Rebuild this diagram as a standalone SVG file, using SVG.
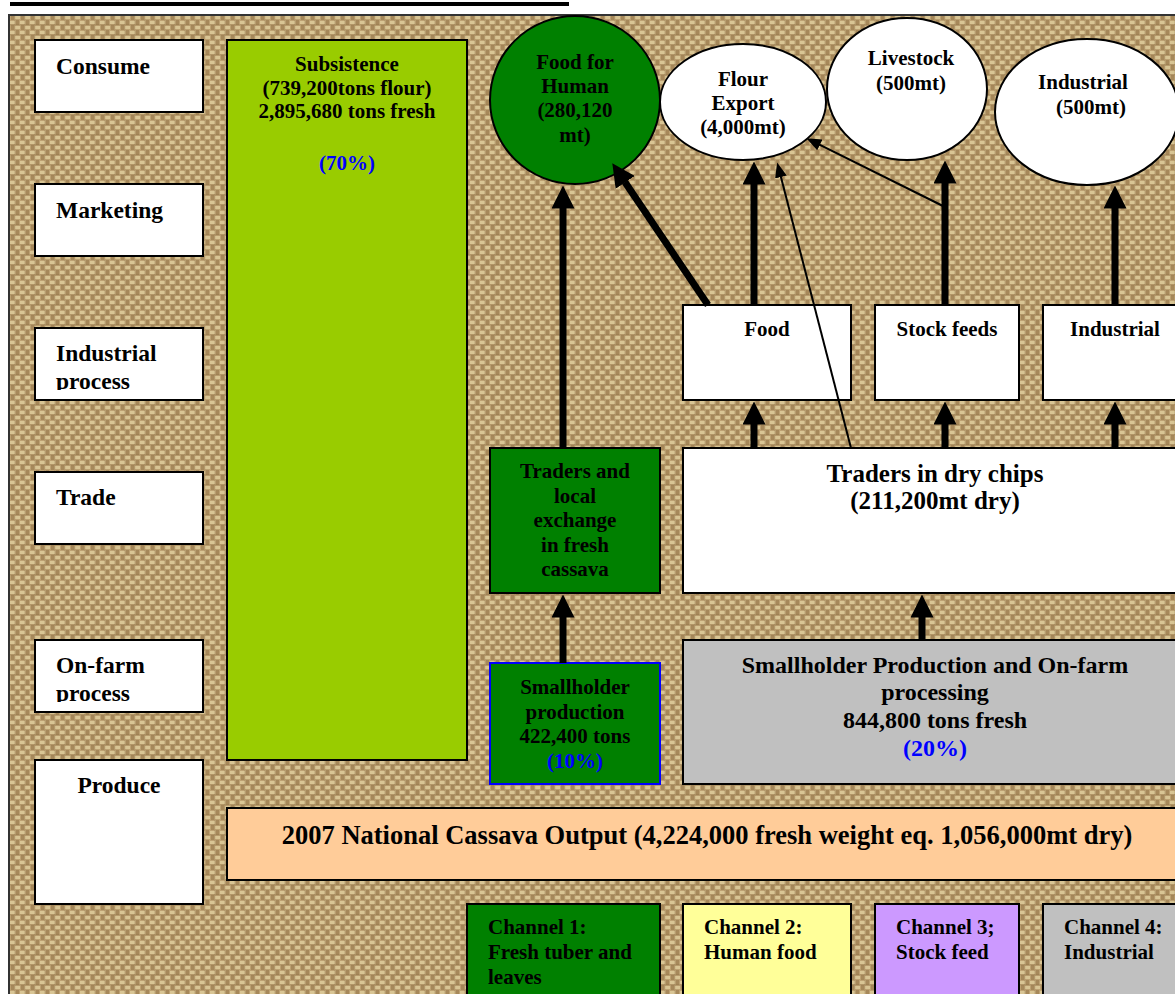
<svg xmlns="http://www.w3.org/2000/svg" width="1175" height="994" viewBox="0 0 1175 994">
<defs>
<pattern id="burlap" width="10" height="10" patternUnits="userSpaceOnUse">
<rect width="10" height="10" fill="#bda172"/>
<rect x="0" y="1" width="5" height="3" fill="#d9c594"/>
<rect x="5" y="6" width="5" height="3" fill="#d9c594"/>
<rect x="6" y="0" width="3" height="5" fill="#a6885a"/>
<rect x="1" y="5" width="3" height="5" fill="#a6885a"/>
<rect x="0" y="4.6" width="10" height="0.6" fill="#7d6238" opacity="0.5"/>
<rect x="4.6" y="0" width="0.6" height="10" fill="#7d6238" opacity="0.4"/>
</pattern>
<marker id="ah" viewBox="0 0 23 23" markerWidth="23" markerHeight="23" markerUnits="userSpaceOnUse" refX="0.5" refY="11.5" orient="auto">
<path d="M0,0 L23,11.5 L0,23 Z" fill="#000"/>
</marker>
<marker id="ahs" viewBox="0 0 15 12" markerWidth="15" markerHeight="12" markerUnits="userSpaceOnUse" refX="0.5" refY="6" orient="auto">
<path d="M0,0 L15,6 L0,12 Z" fill="#000"/>
</marker>
<clipPath id="clipInd"><rect x="35" y="328" width="168" height="62"/></clipPath>
<clipPath id="clipFarm"><rect x="35" y="640" width="168" height="62"/></clipPath>
</defs>
<style>
text{font-family:"Liberation Serif","Times New Roman",serif;font-weight:bold;fill:#000}
.lbl{font-size:23.5px}
.t21{font-size:21px}
.t24{font-size:24px}
.t25{font-size:25px}
.mid{text-anchor:middle}
.blue{fill:#0000ff}
.box{stroke:#000;stroke-width:2}
.thick{stroke:#000;stroke-width:7;fill:none}
.thin{stroke:#000;stroke-width:2;fill:none}
</style>
<rect width="1175" height="994" fill="#ffffff"/>
<rect x="10" y="2" width="559" height="4" fill="#000"/>
<rect x="9" y="15" width="1170" height="985" fill="url(#burlap)" stroke="#333" stroke-width="2"/>

<g id="lbl-consume"><rect class="box" x="35" y="40" width="168" height="72" fill="#fff"/><text class="lbl" x="56" y="74">Consume</text></g>
<g id="lbl-marketing"><rect class="box" x="35" y="184" width="168" height="72" fill="#fff"/><text class="lbl" x="56" y="218">Marketing</text></g>
<g id="lbl-industrial"><rect class="box" x="35" y="328" width="168" height="72" fill="#fff"/><text class="lbl" x="56" y="361" clip-path="url(#clipInd)"><tspan x="56">Industrial</tspan><tspan x="56" dy="28">process</tspan></text></g>
<g id="lbl-trade"><rect class="box" x="35" y="472" width="168" height="72" fill="#fff"/><text class="lbl" x="56" y="505">Trade</text></g>
<g id="lbl-onfarm"><rect class="box" x="35" y="640" width="168" height="72" fill="#fff"/><text class="lbl" x="56" y="673" clip-path="url(#clipFarm)"><tspan x="56">On-farm</tspan><tspan x="56" dy="28">process</tspan></text></g>
<g id="lbl-produce"><rect class="box" x="35" y="760" width="168" height="144" fill="#fff"/><text class="lbl mid" x="119" y="793">Produce</text></g>

<g id="subsistence"><rect class="box" x="227" y="40" width="240" height="720" fill="#99cc00"/>
<text class="t21 mid" x="347" y="71">Subsistence</text>
<text class="t21 mid" x="347" y="95">(739,200tons flour)</text>
<text class="t21 mid" x="347" y="118">2,895,680 tons fresh</text>
<text class="t21 mid blue" x="347" y="170">(70%)</text></g>

<g id="food-human"><ellipse class="box" cx="575" cy="100" rx="85" ry="84" fill="#008000"/>
<text class="t21 mid" x="575" y="69">Food for</text>
<text class="t21 mid" x="575" y="93">Human</text>
<text class="t21 mid" x="575" y="117">(280,120</text>
<text class="t21 mid" x="575" y="142">mt)</text></g>

<g id="flour-export"><ellipse class="box" cx="743" cy="102" rx="83" ry="58" fill="#fff"/>
<text class="t21 mid" x="743" y="86">Flour</text>
<text class="t21 mid" x="743" y="110">Export</text>
<text class="t21 mid" x="743" y="134">(4,000mt)</text></g>

<g id="livestock"><ellipse class="box" cx="907" cy="89" rx="80" ry="71" fill="#fff"/>
<text class="t21 mid" x="911" y="65">Livestock</text>
<text class="t21 mid" x="911" y="90">(500mt)</text></g>

<g id="industrial-use"><ellipse class="box" cx="1087" cy="112" rx="92" ry="73" fill="#fff"/>
<text class="t21 mid" x="1083" y="89">Industrial</text>
<text class="t21 mid" x="1091" y="114">(500mt)</text></g>

<g id="food"><rect class="box" x="683" y="305" width="168" height="95" fill="#fff"/><text class="t21 mid" x="767" y="336">Food</text></g>
<g id="stockfeeds"><rect class="box" x="875" y="305" width="144" height="95" fill="#fff"/><text class="t21 mid" x="947" y="336">Stock feeds</text></g>
<g id="industrial"><rect class="box" x="1043" y="305" width="140" height="95" fill="#fff"/><text class="t21 mid" x="1115" y="336">Industrial</text></g>

<g id="traders-fresh"><rect class="box" x="490" y="448" width="170" height="145" fill="#008000"/>
<text class="t21 mid" x="575" y="478">Traders and</text>
<text class="t21 mid" x="575" y="503">local</text>
<text class="t21 mid" x="575" y="527">exchange</text>
<text class="t21 mid" x="575" y="552">in fresh</text>
<text class="t21 mid" x="575" y="576">cassava</text></g>

<g id="traders-dry"><rect class="box" x="683" y="448" width="500" height="145" fill="#fff"/>
<text class="t25 mid" x="935" y="482">Traders in dry chips</text>
<text class="t25 mid" x="935" y="509">(211,200mt dry)</text></g>

<g id="smallholder-fresh"><rect x="490" y="663" width="170" height="121" fill="#008000" stroke="#0000ff" stroke-width="2"/>
<text class="t21 mid" x="575" y="694">Smallholder</text>
<text class="t21 mid" x="575" y="719">production</text>
<text class="t21 mid" x="575" y="743">422,400 tons</text>
<text class="t21 mid blue" x="575" y="768">(10%)</text></g>

<g id="smallholder-dry"><rect class="box" x="683" y="640" width="500" height="144" fill="#c0c0c0"/>
<text class="t24 mid" x="935" y="673">Smallholder Production and On-farm</text>
<text class="t24 mid" x="935" y="700">processing</text>
<text class="t24 mid" x="935" y="728">844,800 tons fresh</text>
<text class="t24 mid blue" x="935" y="756">(20%)</text></g>

<g id="national"><rect class="box" x="227" y="808" width="960" height="72" fill="#ffcc99"/>
<text class="mid" style="font-size:26.5px" x="707" y="844">2007 National Cassava Output (4,224,000 fresh weight eq. 1,056,000mt dry)</text></g>

<g id="channel1"><rect class="box" x="467" y="904" width="193" height="100" fill="#008000"/>
<text class="t21" x="488" y="934">Channel 1:</text><text class="t21" x="488" y="959">Fresh tuber and</text><text class="t21" x="488" y="984">leaves</text></g>
<g id="channel2"><rect class="box" x="683" y="904" width="168" height="100" fill="#ffff99"/>
<text class="t21" x="704" y="934">Channel 2:</text><text class="t21" x="704" y="959">Human food</text></g>
<g id="channel3"><rect class="box" x="875" y="904" width="144" height="100" fill="#cc99ff"/>
<text class="t21" x="896" y="934">Channel 3;</text><text class="t21" x="896" y="959">Stock feed</text></g>
<g id="channel4"><rect class="box" x="1043" y="904" width="140" height="100" fill="#c0c0c0"/>
<text class="t21" x="1064" y="934">Channel 4:</text><text class="t21" x="1064" y="959">Industrial</text></g>

<g id="connectors">
<line class="thick" x1="563" y1="448" x2="563" y2="208" marker-end="url(#ah)"/>
<line class="thick" x1="708" y1="305" x2="624.9" y2="182" marker-end="url(#ah)"/>
<line class="thick" x1="754" y1="305" x2="754" y2="184" marker-end="url(#ah)"/>
<line class="thick" x1="945" y1="305" x2="945" y2="183" marker-end="url(#ah)"/>
<line class="thick" x1="1115" y1="305" x2="1115" y2="208" marker-end="url(#ah)"/>
<line class="thick" x1="754" y1="448" x2="754" y2="424" marker-end="url(#ah)"/>
<line class="thick" x1="945" y1="448" x2="945" y2="424" marker-end="url(#ah)"/>
<line class="thick" x1="1115" y1="448" x2="1115" y2="424" marker-end="url(#ah)"/>
<line class="thick" x1="563" y1="663" x2="563" y2="617" marker-end="url(#ah)"/>
<line class="thick" x1="922" y1="640" x2="922" y2="617" marker-end="url(#ah)"/>
<line class="thin" x1="851" y1="448" x2="780.8" y2="176.5" marker-end="url(#ahs)"/>
<line class="thin" x1="945" y1="207" x2="819.4" y2="144.7" marker-end="url(#ahs)"/>
</g>
</svg>
